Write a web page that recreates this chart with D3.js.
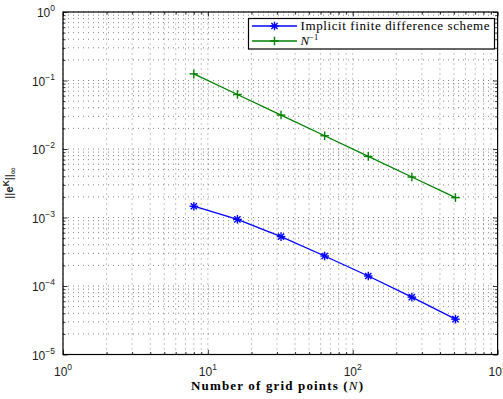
<!DOCTYPE html>
<html><head><meta charset="utf-8">
<script src="https://cdn.jsdelivr.net/npm/d3@7"></script>
<style>body{margin:0;background:#fff}</style></head><body>
<svg id="c" width="503" height="399" xmlns="http://www.w3.org/2000/svg"></svg>
<script>
// ---- data ----
const gridPoints = [8, 16, 32, 64, 128, 256, 512];
const errImplicit = [1.46e-3, 9.4e-4, 5.26e-4, 2.74e-4, 1.40e-4, 6.88e-5, 3.28e-5];
const refNinv = [0.125, 0.0625, 0.0313, 0.0156, 0.0078, 0.0039, 0.00195];
const xTickExps = [0, 1, 2, 3];
const yTickExps = [-5, -4, -3, -2, -1, 0];
const legendLabels = ["Implicit finite difference scheme", "N^-1"];

// ---- layout ----
const L = 63, R = 497.6, T = 12, B = 354.5;
const svg = d3.select("#c");
const x = d3.scaleLog().domain([1, 1000]).range([L, R]);
const y = d3.scaleLog().domain([1e-5, 1]).range([B, T]);

const minorOf = (exps) => {
  const out = [];
  for (let i = 0; i < exps.length - 1; i++)
    for (let m = 2; m <= 9; m++) out.push(m * Math.pow(10, exps[i]));
  return out;
};
const xMajor = xTickExps.map(e => Math.pow(10, e));
const yMajor = yTickExps.map(e => Math.pow(10, e));
const xMinor = minorOf(xTickExps);
const yMinor = minorOf(yTickExps);

// ---- grid ----
const grid = svg.append("g").attr("stroke", "#333").attr("stroke-width", 0.6)
  .attr("stroke-dasharray", "1,4").attr("fill", "none");
xMajor.concat(xMinor).forEach(v => {
  grid.append("line").attr("x1", x(v)).attr("x2", x(v)).attr("y1", B).attr("y2", T);
});
yMajor.concat(yMinor).forEach(v => {
  grid.append("line").attr("y1", y(v)).attr("y2", y(v)).attr("x1", L).attr("x2", R);
});

// ---- axes (inward ticks, box) ----
function tickAxis(axisGen, transform) {
  const g = svg.append("g").attr("transform", transform).call(axisGen);
  g.selectAll("text").remove();
  g.select(".domain").remove();
  g.selectAll("line").attr("stroke", "#000").attr("stroke-width", 0.8);
  return g;
}
tickAxis(d3.axisBottom(x).tickValues(xMajor).tickSize(-4.5).tickFormat(""), `translate(0,${B})`);
tickAxis(d3.axisBottom(x).tickValues(xMinor).tickSize(-2.5).tickFormat(""), `translate(0,${B})`);
tickAxis(d3.axisTop(x).tickValues(xMajor).tickSize(-4.5).tickFormat(""), `translate(0,${T})`);
tickAxis(d3.axisTop(x).tickValues(xMinor).tickSize(-2.5).tickFormat(""), `translate(0,${T})`);
tickAxis(d3.axisLeft(y).tickValues(yMajor).tickSize(-4.5).tickFormat(""), `translate(${L},0)`);
tickAxis(d3.axisLeft(y).tickValues(yMinor).tickSize(-2.5).tickFormat(""), `translate(${L},0)`);
tickAxis(d3.axisRight(y).tickValues(yMajor).tickSize(-4.5).tickFormat(""), `translate(${R},0)`);
tickAxis(d3.axisRight(y).tickValues(yMinor).tickSize(-2.5).tickFormat(""), `translate(${R},0)`);

svg.append("rect").attr("x", L).attr("y", T).attr("width", R - L).attr("height", B - T)
  .attr("fill", "none").attr("stroke", "#000").attr("stroke-width", 1.2);

// ---- tick labels ----
const sans = "'Liberation Sans', Arial, Helvetica, sans-serif";
xTickExps.forEach(e => {
  const t = svg.append("text").attr("x", x(Math.pow(10, e))).attr("y", B + 21)
    .attr("text-anchor", "middle").attr("font-family", sans).attr("font-size", 12).attr("fill", "#222");
  t.append("tspan").text("10");
  t.append("tspan").attr("font-size", 8.5).attr("dy", -6).text(e === 0 ? "0" : String(e));
});
yTickExps.forEach(e => {
  const t = svg.append("text").attr("x", L - 8).attr("y", y(Math.pow(10, e)) + 5)
    .attr("text-anchor", "end").attr("font-family", sans).attr("font-size", 12).attr("fill", "#222");
  t.append("tspan").text("10");
  t.append("tspan").attr("font-size", 8.5).attr("dy", -6).text(e === 0 ? "0" : "\u2212" + Math.abs(e));
});

// ---- axis titles ----
const serif = "'Liberation Serif', 'Times New Roman', serif";
const xt = svg.append("text").attr("x", 191).attr("y", 390)
  .attr("text-anchor", "start").attr("font-family", serif).attr("font-size", 13)
  .attr("font-weight", "bold").attr("fill", "#000")
  .attr("textLength", 172).attr("lengthAdjust", "spacing");
xt.append("tspan").text("Number of grid points (");
xt.append("tspan").attr("font-style", "italic").attr("font-weight", "normal").text("N");
xt.append("tspan").text(")");

const yt = svg.append("text").attr("transform", `translate(13,183) rotate(-90)`)
  .attr("text-anchor", "middle").attr("font-family", sans).attr("font-size", 11.5).attr("fill", "#222");
yt.append("tspan").text("||");
yt.append("tspan").attr("font-weight", "bold").text("e");
yt.append("tspan").attr("font-weight", "bold").attr("font-size", 8.5).attr("dy", -4).text("K");
yt.append("tspan").attr("dy", 4).text("||");
yt.append("tspan").attr("font-size", 9.5).attr("dy", 3).text("\u221E");

// ---- series ----
const series = [
  { name: legendLabels[0], values: errImplicit, color: "#0000ff", marker: "star" },
  { name: legendLabels[1], values: refNinv, color: "#008000", marker: "plus" }
];
const line = d3.line().x(d => x(d[0])).y(d => y(d[1]));

function drawMarker(g, cx, cy, type, color) {
  const s = 4.3;
  const segs = [[-s, 0, s, 0], [0, -s, 0, s]];
  if (type === "star") {
    const d = s * 0.72;
    segs.push([-d, -d, d, d], [-d, d, d, -d]);
  }
  segs.forEach(a => g.append("line")
    .attr("x1", cx + a[0]).attr("y1", cy + a[1]).attr("x2", cx + a[2]).attr("y2", cy + a[3])
    .attr("stroke", color).attr("stroke-width", 1.4));
}

series.forEach(s => {
  const pts = gridPoints.map((n, i) => [n, s.values[i]]);
  svg.append("path").datum(pts).attr("d", line).attr("fill", "none")
    .attr("stroke", s.color).attr("stroke-width", 1.3);
  const g = svg.append("g");
  pts.forEach(p => drawMarker(g, x(p[0]), y(p[1]), s.marker, s.color));
});

// ---- legend ----
const lg = svg.append("g");
lg.append("rect").attr("x", 248.5).attr("y", 18.5).attr("width", 246).attr("height", 30.5)
  .attr("fill", "#fff").attr("stroke", "#000").attr("stroke-width", 1.2);
const rowsY = [26, 41];
series.forEach((s, i) => {
  lg.append("line").attr("x1", 252).attr("x2", 297).attr("y1", rowsY[i]).attr("y2", rowsY[i])
    .attr("stroke", s.color).attr("stroke-width", 1.3);
  drawMarker(lg, 274.5, rowsY[i], s.marker, s.color);
});
lg.append("text").attr("x", 300.5).attr("y", rowsY[0] + 4).attr("font-family", serif)
  .attr("font-size", 13).attr("fill", "#000")
  .attr("textLength", 189).attr("lengthAdjust", "spacing").text(legendLabels[0]);
const t2 = lg.append("text").attr("x", 300.5).attr("y", rowsY[1] + 4).attr("font-family", serif)
  .attr("font-size", 13).attr("fill", "#000");
t2.append("tspan").attr("font-style", "italic").text("N");
t2.append("tspan").attr("font-size", 8.5).attr("dy", -5).text("\u22121");
</script>
</body></html>
